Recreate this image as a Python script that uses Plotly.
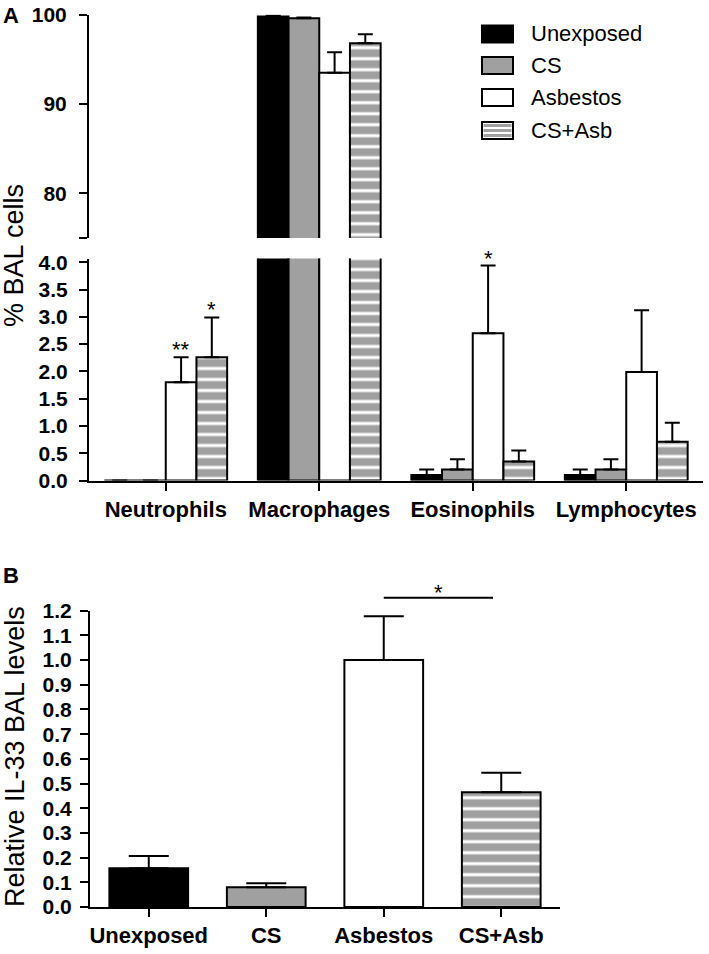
import plotly.graph_objects as go

W, H = 709, 954

# ---------------- data ----------------
cells = ["Neutrophils", "Macrophages", "Eosinophils", "Lymphocytes"]
groups = ["Unexposed", "CS", "Asbestos", "CS+Asb"]

unexposed_pct = [0.0, 99.8, 0.10, 0.10]
unexposed_err = [0.0, 0.1, 0.10, 0.10]
cs_pct = [0.0, 99.6, 0.20, 0.20]
cs_err = [0.0, 0.1, 0.19, 0.19]
asb_pct = [1.80, 93.5, 2.70, 1.99]
asb_err = [0.46, 2.3, 1.24, 1.13]
csasb_pct = [2.26, 96.8, 0.35, 0.71]
csasb_err = [0.73, 1.0, 0.20, 0.35]

pct_ticks_low = [0.0, 0.5, 1.0, 1.5, 2.0, 2.5, 3.0, 3.5, 4.0]
pct_ticks_high = [80, 90, 100]

il33_vals = [0.157, 0.080, 1.000, 0.465]
il33_err = [0.050, 0.016, 0.178, 0.079]
il33_ticks = [0.0, 0.1, 0.2, 0.3, 0.4, 0.5, 0.6, 0.7, 0.8, 0.9, 1.0, 1.1, 1.2]

# significance marks (panel A): (cell index, group index, label)
sig_marks = [(0, 2, "**"), (0, 3, "*"), (2, 2, "*")]

# ---------------- styles ----------------
FONT = "Liberation Sans, Arial, Helvetica, sans-serif"
GRAY = "#a0a0a0"
fill_styles = {
    "Unexposed": dict(color="black"),
    "CS": dict(color=GRAY),
    "Asbestos": dict(color="white"),
    "CS+Asb": dict(color=GRAY, pattern=dict(shape="-", fgcolor=GRAY, bgcolor="white",
                                            fillmode="replace", size=11, solidity=0.72)),
}

def px_x(p):
    return p / W

def px_y(p):
    return 1 - p / H

fig = go.Figure()

series = [unexposed_pct, cs_pct, asb_pct, csasb_pct]
errs = [unexposed_err, cs_err, asb_err, csasb_err]

for yax in ["y", "y2"]:
    for g, vals, er in zip(groups, series, errs):
        m = dict(fill_styles[g])
        m["line"] = dict(color="black", width=2)
        fig.add_trace(go.Bar(
            x=cells, y=vals, name=g, xaxis="x", yaxis=yax, marker=m,
            showlegend=False,
            error_y=dict(type="data", symmetric=False, array=er, arrayminus=[0] * len(er),
                         color="black", thickness=2, width=7.5),
        ))

# panel B single trace
fig.add_trace(go.Bar(
    x=groups, y=il33_vals, xaxis="x3", yaxis="y3", width=0.67, showlegend=False,
    marker=dict(
        color=["black", GRAY, "white", GRAY],
        line=dict(color="black", width=2),
        pattern=dict(shape=["", "", "", "-"], fgcolor=GRAY, bgcolor="white",
                     fillmode="replace", size=11, solidity=0.72),
    ),
    error_y=dict(type="data", symmetric=False, array=il33_err, arrayminus=[0] * 4,
                 color="black", thickness=2, width=20),
))

axis_common = dict(showline=True, linecolor="black", linewidth=2, ticks="outside",
                   ticklen=8, tickwidth=2, tickcolor="black", showgrid=False, zeroline=False,
                   automargin=False)
tick_y_font = dict(family=FONT, size=21, color="black", weight="bold")
tick_x_font = dict(family=FONT, size=22, color="black", weight="bold")

fig.update_layout(
    width=W, height=H, margin=dict(l=0, r=0, t=0, b=0),
    paper_bgcolor="white", plot_bgcolor="white",
    barmode="group", bargap=0.2, bargroupgap=0,
    font=dict(family=FONT, color="black"),
    xaxis=dict(domain=[px_x(89), px_x(703)], anchor="y", type="category",
               range=[-0.5, 3.5], tickfont=tick_x_font, **axis_common),
    yaxis=dict(domain=[px_y(480.5), px_y(258.5)], anchor="x", range=[0, 4.07],
               tickvals=pct_ticks_low, ticktext=[f"{v:.1f}" for v in pct_ticks_low],
               tickfont=tick_y_font, ticklabelstandoff=7, **axis_common),
    yaxis2=dict(domain=[px_y(238), px_y(14.7)], anchor="x", range=[75, 100],
                tickvals=[75] + pct_ticks_high, ticktext=[""] + [str(v) for v in pct_ticks_high],
                tickfont=tick_y_font, ticklabelstandoff=8, **axis_common),
    xaxis3=dict(domain=[px_x(90), px_x(560)], anchor="y3", type="category",
                range=[-0.5, 3.5], tickfont=tick_x_font, **axis_common),
    yaxis3=dict(domain=[px_y(907), px_y(610.7)], anchor="x3", range=[0, 1.2],
                tickvals=il33_ticks, ticktext=[f"{v:.1f}" for v in il33_ticks],
                tickfont=tick_y_font, ticklabelstandoff=4, **axis_common),
)

ann = []
# significance stars panel A
for ci, gi, lab in sig_marks:
    top = series[gi][ci] + errs[gi][ci]
    ann.append(dict(x=ci - 0.3 + 0.2 * gi, y=top, xref="x", yref="y", text=lab,
                    showarrow=False, yanchor="bottom", yshift=-7,
                    font=dict(family=FONT, size=22, color="black")))
# panel B significance
fig.add_shape(type="line", xref="x3", yref="paper", x0=2, x1=2.93,
              y0=px_y(597.7), y1=px_y(597.7), line=dict(color="black", width=2))
ann.append(dict(x=2.47, y=px_y(597.7), xref="x3", yref="paper", text="*", showarrow=False,
                yanchor="bottom", yshift=-9, font=dict(family=FONT, size=22, color="black")))

# axis titles
ann.append(dict(x=px_x(14), y=px_y(256), xref="paper", yref="paper", text="% BAL cells",
                textangle=-90, showarrow=False, xanchor="center", yanchor="middle",
                font=dict(family=FONT, size=27, color="black")))
ann.append(dict(x=px_x(15), y=px_y(757), xref="paper", yref="paper",
                text="Relative IL-33 BAL levels", textangle=-90, showarrow=False,
                xanchor="center", yanchor="middle",
                font=dict(family=FONT, size=27, color="black")))
# panel letters
ann.append(dict(x=px_x(11), y=px_y(16), xref="paper", yref="paper", text="A", showarrow=False,
                xanchor="center", yanchor="middle",
                font=dict(family=FONT, size=22, color="black", weight="bold")))
ann.append(dict(x=px_x(11), y=px_y(575), xref="paper", yref="paper", text="B", showarrow=False,
                xanchor="center", yanchor="middle",
                font=dict(family=FONT, size=22, color="black", weight="bold")))

# custom legend (large swatches)
leg_rows = [34, 65.5, 97.5, 130.5]
swatch_fill = {"Unexposed": "black", "CS": GRAY, "Asbestos": "white", "CS+Asb": "white"}
for g, yc in zip(groups, leg_rows):
    fig.add_shape(type="rect", xref="paper", yref="paper",
                  x0=px_x(482), x1=px_x(513), y0=px_y(yc + 8.5), y1=px_y(yc - 8.5),
                  fillcolor=swatch_fill[g], line=dict(color="black", width=2))
    if g == "CS+Asb":
        for dy in (-5, 0, 5):
            fig.add_shape(type="line", xref="paper", yref="paper",
                          x0=px_x(483.5), x1=px_x(511.5), y0=px_y(yc + dy), y1=px_y(yc + dy),
                          line=dict(color=GRAY, width=3))
    ann.append(dict(x=px_x(529), y=px_y(yc), xref="paper", yref="paper", text=g,
                    showarrow=False, xanchor="left", yanchor="middle",
                    font=dict(family=FONT, size=22, color="black")))

fig.update_layout(annotations=ann)
fig.write_html("out.html", config={"displayModeBar": False},
               post_script="document.body.style.margin='0';document.body.style.overflow='hidden';")
